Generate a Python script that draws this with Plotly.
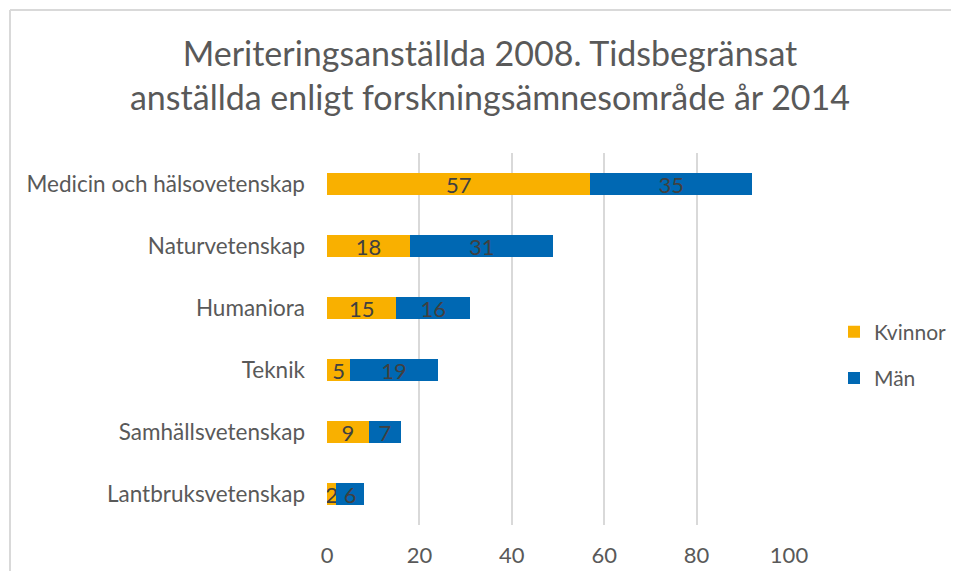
import plotly.graph_objects as go

categories = ["Medicin och hälsovetenskap", "Naturvetenskap", "Humaniora",
              "Teknik", "Samhällsvetenskap", "Lantbruksvetenskap"]
kvinnor = [57, 18, 15, 5, 9, 2]
man = [35, 31, 16, 19, 7, 6]
tick_vals = [0, 20, 40, 60, 80, 100]

FONT = "Lato"
TXT = "#595959"

# page body has an 8px margin; size the figure so the page fits the window exactly
OFF = 8
FW, FH = 959 - 2 * OFF, 579 - 2 * OFF

fig = go.Figure()
fig.add_trace(go.Bar(y=categories, x=kvinnor, name="Kvinnor", orientation="h",
                     legendgroup="k",
                     marker=dict(color="#F9B000", line=dict(width=0)),
                     text=kvinnor, textposition="inside", insidetextanchor="middle",
                     textangle=0,
                     textfont=dict(family=FONT, size=22, color="#404040"),
                     constraintext="none"))
fig.add_trace(go.Bar(y=categories, x=man, name="Män", orientation="h",
                     legendgroup="m",
                     marker=dict(color="#0068B3", line=dict(width=0)),
                     text=man, textposition="inside", insidetextanchor="middle",
                     textangle=0,
                     textfont=dict(family=FONT, size=22, color="#404040"),
                     constraintext="none"))

# plot area in screen pixels: x 327..789, y 153..525
L = 327 - OFF
R = FW - (789 - OFF)
T = 153 - OFF
B = FH - (525 - OFF)
W, H = FW - L - R, FH - T - B

fig.update_layout(
    width=FW, height=FH, barmode="stack", bargap=0.66,
    paper_bgcolor="white", plot_bgcolor="white",
    margin=dict(l=L, r=R, t=T, b=B, autoexpand=False),
    title=dict(text="Meriteringsanställda 2008. Tidsbegränsat<br>anställda enligt forskningsämnesområde år 2014",
               x=(490 - OFF) / FW, xanchor="center", xref="container",
               y=1 - 58 / FH, yanchor="middle", yref="container",
               font=dict(family=FONT, size=34, color=TXT)),
    xaxis=dict(range=[0, 100], tickvals=tick_vals, showgrid=True, gridcolor="#D9D9D9",
               gridwidth=2, zeroline=False, showline=False,
               tickfont=dict(family=FONT, size=22, color=TXT), ticks="", ticklabelstandoff=15),
    yaxis=dict(categoryorder="array", categoryarray=categories[::-1], showgrid=False,
               tickfont=dict(family=FONT, size=22.5, color=TXT), ticks="", ticklabelstandoff=21),
    legend=dict(xref="container", yref="container", x=(834 - OFF) / FW,
                y=1 - (355 - OFF) / FH,
                xanchor="left", yanchor="middle", traceorder="grouped",
                font=dict(family=FONT, size=21, color=TXT), tracegroupgap=16,
                itemsizing="constant", bgcolor="rgba(0,0,0,0)"),
    showlegend=True,
)
# chart-area border (left and top edges visible in the reference)
bx = (10 - OFF - L) / W
by = (H + T - (10 - OFF)) / H
fig.add_shape(type="line", xref="paper", yref="paper", x0=bx, x1=bx, y0=by, y1=(H + T - 700) / H,
              line=dict(color="#D9D9D9", width=2), layer="below")
fig.add_shape(type="line", xref="paper", yref="paper", x0=bx, x1=(1000 - L) / W, y0=by, y1=by,
              line=dict(color="#D9D9D9", width=2), layer="below")
fig.write_html("out.html")
